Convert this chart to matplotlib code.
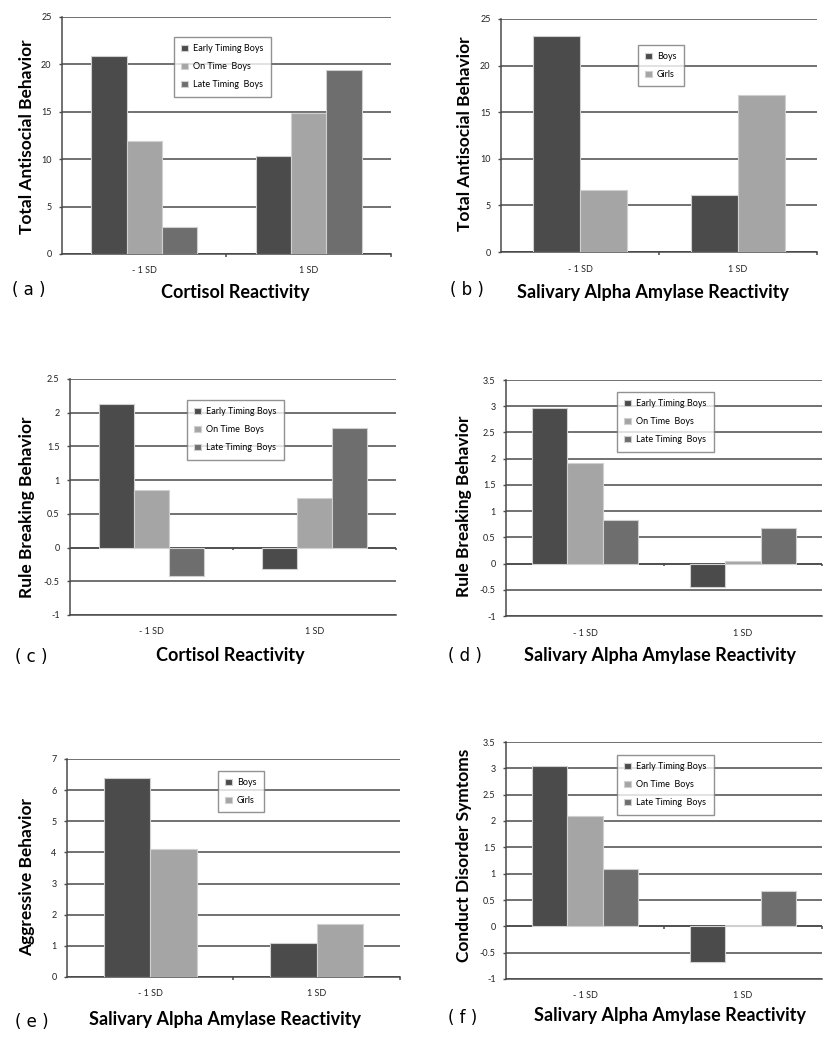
import matplotlib.pyplot as plt
import numpy as np

W, H = 837, 1050

sd_labels = ["- 1 SD", "1 SD"]
timing_groups = ["Early Timing Boys", "On Time  Boys", "Late Timing  Boys"]
sex_groups = ["Boys", "Girls"]

# (a) total antisocial x cortisol, by timing
a_early = [20.9, 10.3]
a_ontime = [11.9, 14.9]
a_late = [2.8, 19.4]
# (b) total antisocial x sAA, by sex
b_boys = [23.2, 6.1]
b_girls = [6.6, 16.8]
# (c) rule breaking x cortisol, by timing
c_early = [2.13, -0.32]
c_ontime = [0.85, 0.73]
c_late = [-0.42, 1.77]
# (d) rule breaking x sAA, by timing
d_early = [2.96, -0.45]
d_ontime = [1.92, 0.04]
d_late = [0.84, 0.67]
# (e) aggressive x sAA, by sex
e_boys = [6.4, 1.1]
e_girls = [4.1, 1.7]
# (f) conduct disorder x sAA, by timing
f_early = [3.05, -0.68]
f_ontime = [2.10, 0.02]
f_late = [1.09, 0.67]

dark = "#4b4b4b"
light = "#a5a5a5"
mid = "#6e6e6e"
grid_col = "#4a4a4a"

plt.rcParams['font.family'] = ['Lato', 'DejaVu Sans']

fig = plt.figure(figsize=(W / 100, H / 100), dpi=100)


def px_axes(x0, y0, x1, y1):
    return fig.add_axes([x0 / W, 1 - y1 / H, (x1 - x0) / W, (y1 - y0) / H])


def draw_panel(box, series, colors, names, width, ylim, step, ylabel, ylab_px,
               leg_box, xlabel, xlab_pos, tag, tag_pos):
    ax = px_axes(*box)
    x = np.arange(len(sd_labels))
    n = len(series)
    for i, (vals, col, nm) in enumerate(zip(series, colors, names)):
        off = (i - (n - 1) / 2) * width
        ax.bar(x + off, vals, width, color=col, edgecolor="#d0d0d0",
               linewidth=0.8, label=nm, zorder=3)
    ax.set_xlim(-0.5, len(sd_labels) - 0.5)
    ax.set_ylim(*ylim)
    ticks = np.arange(ylim[0], ylim[1] + step / 2, step)
    ax.set_yticks(ticks)
    ax.set_yticklabels([f"{t:g}" for t in ticks])
    ax.yaxis.grid(True, color=grid_col, linewidth=1.1, zorder=0)
    ax.set_axisbelow(True)
    for s in ["top", "right"]:
        ax.spines[s].set_visible(False)
    for s in ["left", "bottom"]:
        ax.spines[s].set_color(grid_col)
        ax.spines[s].set_linewidth(1.1)
    ax.set_xticks(x)
    ax.set_xticklabels(sd_labels)
    ax.tick_params(axis="both", labelsize=6.5, labelcolor="#222222")
    ax.tick_params(axis="x", length=0, pad=9)
    ax.tick_params(axis="y", length=2.5, width=1.0, color=grid_col, pad=5)
    # category boundary marks on the zero line
    ax.axhline(0, color=grid_col, linewidth=1.1, zorder=2)
    span = ylim[1] - ylim[0]
    ax.vlines([0.5, 1.5], 0, -0.012 * span, color=grid_col, linewidth=1.1,
              clip_on=False)
    ax.set_ylabel(ylabel, fontsize=12.5, fontweight="bold")
    # label right edge / centre given in figure pixels
    ax.yaxis.set_label_coords((ylab_px[0] - box[0]) / (box[2] - box[0]),
                              (box[3] - ylab_px[1]) / (box[3] - box[1]))
    leg = ax.legend(loc="upper left",
                    bbox_to_anchor=(leg_box[0] / W, 1 - leg_box[1] / H),
                    bbox_transform=fig.transFigure, borderaxespad=0,
                    fontsize=6.5, frameon=True, fancybox=False,
                    handlelength=0.7, handleheight=0.7, handletextpad=0.6,
                    labelspacing=1.0, borderpad=0.8)
    leg.get_frame().set_edgecolor("#777777")
    leg.get_frame().set_linewidth(1.0)
    fig.text(xlab_pos[0] / W, 1 - xlab_pos[1] / H, xlabel, fontsize=13,
             fontweight="bold", ha="center", va="center")
    fig.text(tag_pos[0] / W, 1 - tag_pos[1] / H, tag, fontsize=12,
             ha="left", va="center", family="DejaVu Sans")
    return ax


draw_panel((62, 17, 391, 254), [a_early, a_ontime, a_late], [dark, light, mid],
           timing_groups, 0.215, (0, 25), 5, "Total Antisocial Behavior", (35, 137),
           (174, 37), "Cortisol Reactivity", (235, 293), "( a )", (12, 290))

draw_panel((501, 19, 817, 252), [b_boys, b_girls], [dark, light],
           sex_groups, 0.30, (0, 25), 5, "Total Antisocial Behavior", (473, 134),
           (638, 45), "Salivary Alpha Amylase Reactivity", (653, 293),
           "( b )", (450, 290))

draw_panel((70, 379, 396, 615), [c_early, c_ontime, c_late], [dark, light, mid],
           timing_groups, 0.215, (-1, 2.5), 0.5, "Rule Breaking Behavior", (35, 507),
           (187, 400), "Cortisol Reactivity", (230, 655), "( c )", (15, 657))

draw_panel((506, 380, 822, 616), [d_early, d_ontime, d_late], [dark, light, mid],
           timing_groups, 0.222, (-1, 3.5), 0.5, "Rule Breaking Behavior", (472, 506),
           (617, 392), "Salivary Alpha Amylase Reactivity", (660, 655),
           "( d )", (448, 656))

draw_panel((67, 759, 400, 977), [e_boys, e_girls], [dark, light],
           sex_groups, 0.28, (0, 7), 1, "Aggressive Behavior", (35, 877),
           (218, 771), "Salivary Alpha Amylase Reactivity", (225, 1019),
           "( e )", (15, 1022))

draw_panel((506, 742, 822, 979), [f_early, f_ontime, f_late], [dark, light, mid],
           timing_groups, 0.222, (-1, 3.5), 0.5, "Conduct Disorder Symtoms", (472, 855),
           (617, 755), "Salivary Alpha Amylase Reactivity", (670, 1015),
           "( f )", (448, 1018))

fig.savefig("out.png", dpi=100)
